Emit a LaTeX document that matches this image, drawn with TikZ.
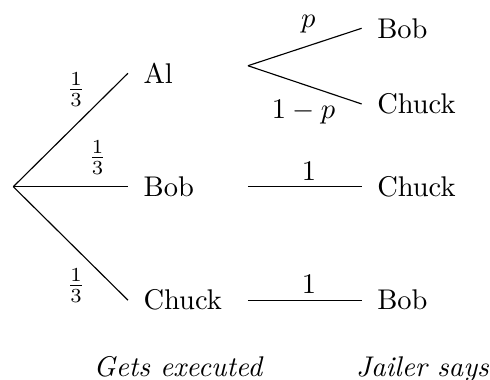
\documentclass[tikz,border=0pt]{standalone}
\usetikzlibrary{positioning}

\begin{document}
\begin{tikzpicture}[
        x=1cm,y=1cm,
        branch/.style={line width=.4pt},
        pick/.style={anchor=west,inner sep=5.3pt},
        prob/.style={inner sep=0pt},
        caption/.style={anchor=base,font=\itshape}
      ]
        \useasboundingbox (-0.164,-2.385) rectangle (5.883,2.304);

        % who gets executed
        \coordinate (root) at (0,0);
        \node[pick] (al) at (1.415,1.40) {Al};
        \node[pick] (bob) at (1.415,0) {Bob};
        \node[pick] (chuck) at (1.415,-1.40) {Chuck};

        \draw[branch] (root) -- (al.west);
        \draw[branch] (root) -- (bob.west);
        \draw[branch] (root) -- (chuck.west);

        \node[prob] (pal) at (0.774,1.199) {$\frac{1}{3}$};
        \node[prob] (pbob) at (1.039,0.360) {$\frac{1}{3}$};
        \node[prob] (pchuck) at (0.774,-1.222) {$\frac{1}{3}$};

        % what the jailer says
        \coordinate (alsays) at (2.896,1.493);
        \coordinate (bobsays) at (2.896,0);
        \coordinate (chucksays) at (2.896,-1.40);

        \node[pick] (albob) at (4.299,1.955) {Bob};
        \node[pick] (alchuck) at (4.299,1.021) {Chuck};
        \node[pick] (bobchuck) at (4.299,0) {Chuck};
        \node[pick] (chuckbob) at (4.299,-1.40) {Bob};

        \draw[branch] (alsays) -- (albob.west);
        \draw[branch] (alsays) -- (alchuck.west);
        \draw[branch] (bobsays) -- (bobchuck.west);
        \draw[branch] (chucksays) -- (chuckbob.west);

        \node[prob] (palbob) at (3.642,2.008) {$p$};
        \node[prob] (palchuck) at (3.581,0.916) {$1-p$};
        \node[prob] (pbobchuck) at (3.649,0.195) {$1$};
        \node[prob] (pchuckbob) at (3.649,-1.200) {$1$};

        \node[caption] (executed) at (2.032,-2.348) {Gets executed};
        \node[caption] (says) at (5.05,-2.348) {Jailer says};
      \end{tikzpicture}
\end{document}
